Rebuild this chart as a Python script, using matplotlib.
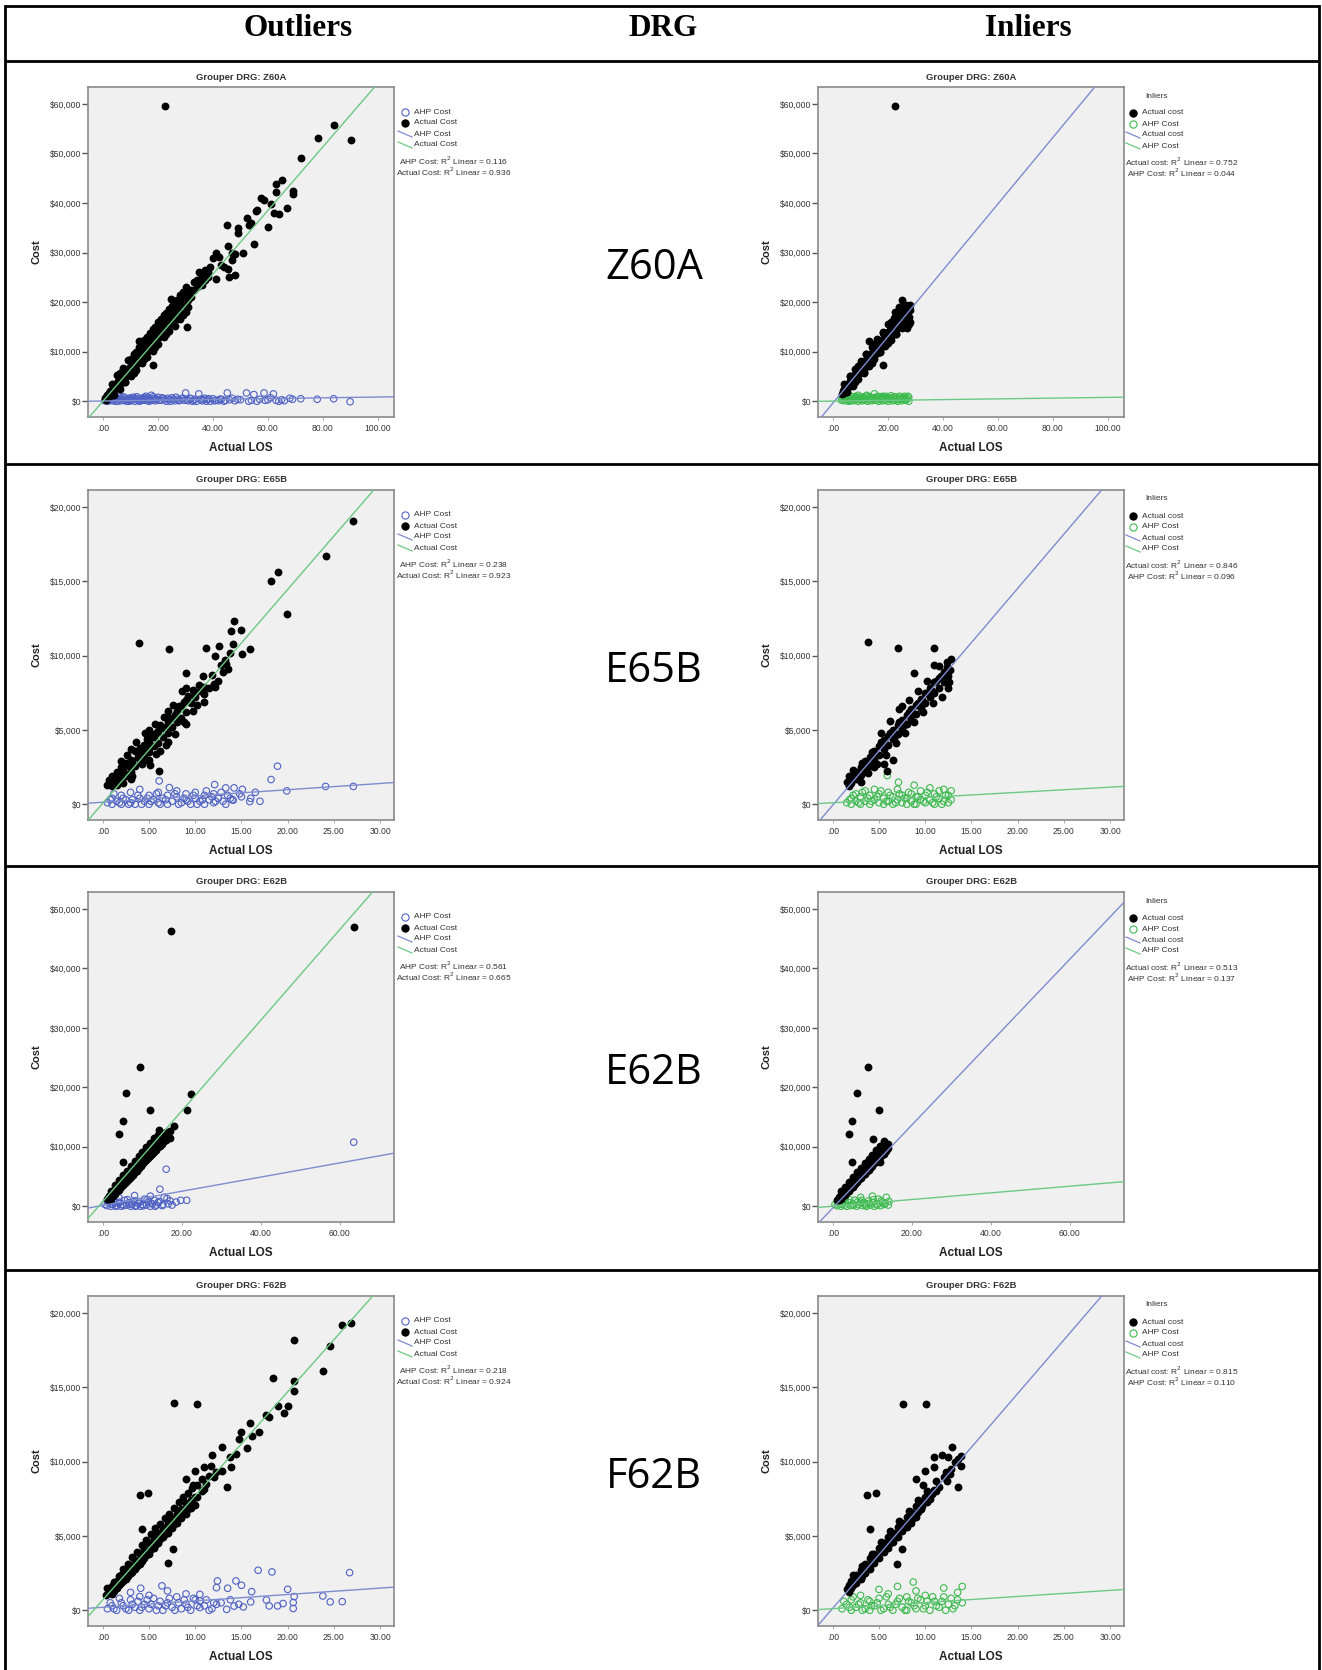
import matplotlib
matplotlib.use("Agg")
import matplotlib.pyplot as plt
from matplotlib.lines import Line2D
import numpy as np

W, H = 1322, 1670

# ---------------- DATA ----------------
drg_codes = ["Z60A", "E65B", "E62B", "F62B"]
headers = ["Outliers", "DRG", "Inliers"]

# Z60A outliers
z60a_out_act_x = [0.5,1,1,1.5,2,2,2.5,3,3,3.5,4,4,4.5,5,5,5.5,6,6,6.5,6,7,7,7.5,8,8,8.5,9,9,9.5,10,10,10.5,11,11,11.5,12,12,12.5,13,13,13.1,13.5,14,14,14.5,15,15,15.5,16,16,16.5,17,17,17.5,18,18,18.2,18.5,19,19,19.5,20,20,20.5,21,21,21.5,22,22,22.5,23,23,23.5,24,24,24.8,25,25,25.5,26,26,26.5,27,27,28,28,29,29,30,30.4,31,31,32,33,33,34,35,35,36,37,38,38,39,40,41,41,42,43,44,45.2,45.5,45.5,46,47,47,48,48,49,49,50.8,52.5,53,54,55.5,54.9,56,57.4,58.6,60.1,61,62.2,63,63,65.1,64.2,67,69.1,69.1,71.9,78.3,84.1,90.2,22.5]
z60a_out_act_y = [600,900,300,1300,1600,900,2000,2300,1500,2600,3000,2200,3300,3600,2800,4000,4300,3500,4700,5800,5000,4000,5300,5900,4800,6000,6500,5500,6800,7200,6200,7600,7900,6800,8200,8600,7400,9000,9400,8000,12100,9700,10000,8800,10400,10800,9500,11200,11500,10000,11800,12300,10800,12600,13000,11400,7400,13200,13600,12200,14000,14500,12800,15000,15300,13500,15700,16200,14000,16300,16800,14900,17000,17500,15500,20600,18000,16500,18500,19000,17000,19500,20000,17500,20000,18000,19500,21000,21000,15000,22000,20500,22500,22500,24000,23000,26000,24500,25500,24500,25000,26000,27000,28960,29970,24580,29100,27500,27000,35560,31310,26600,25000,30000,28500,29630,25500,34880,33870,29970,37030,35500,36000,38400,31650,38500,40950,40610,35150,39740,38050,43900,42290,44650,37710,39050,42420,41750,49090,53070,55760,52800,59600]
z60a_out_act_more = [(2,1200),(3,1900),(4,2600),(5,3200),(6,3900),(7,4500),(8,5300),(9,6000),(10,6700),(11,7300),(12,8000),(13,8700),(14,9400),(15,10100),(16,10700),(17,11500),(18,12200),(19,12900),(20,13600),(21,14400),(22,15100),(23,15800),(24,16500),(25,17200),(26,17900),(27,18700),(28,19200),(10,8500),(12,10000),(14,11500),(16,13000),(18,14500),(20,16000),(22,17500),(24,18700),(26,20000),(8,3800),(11,5800),(15,8500),(19,11000),(23,13500),(27,16500),(29,17500),(31,19000),(32,21000),(34,24500),(36,23500),(37,26500),(30,23000),(28,21500),
                     (3,3500),(5,5200),(7,6700),(9,8300),(11,9500),(13,10900),(15,12300),(17,13700),(19,15000),(21,16500),(23,17800),(25,19300),(27,20500),(29,22000),
                     (4,1200),(6,2400),(8,3900),(10,5100),(12,6400),(14,7700),(16,9000),(18,10200),(20,11500),(22,12900),(24,14200),(26,15200),(28,16500),(30,18000)]
z60a_out_ahp_x = [0.5,1,1.5,2,2.5,3,3.5,4,4.5,5,5.5,6,6.5,7,7.5,8,8.5,9,9.5,10,10.5,11,11.5,12,12.5,13,13.5,14,14.5,15,15.5,16,16.5,17,17.5,18,18.5,19,19.5,20,21,22,23,24,25,26,27,28,29,30,30.5,31,32,33,34,34.8,35.5,36,37,38,39,40,41,42,43,44,45.2,46,47,48,49,50,52.2,53,54,54.9,56,57,58.6,59,60,61,62,63,64,65,66,68,69,72,78,84,90]
z60a_out_ahp_y = [100,300,0,500,200,700,100,400,0,600,300,900,100,500,200,700,0,400,600,100,300,800,0,500,200,600,100,400,700,200,1000,300,0,500,1200,200,600,100,400,800,200,500,0,300,700,100,400,200,600,1680,300,100,500,200,0,1480,400,100,600,300,0,500,200,100,400,0,1680,300,600,100,400,300,1680,0,200,1350,0,400,1680,200,300,700,1480,200,0,300,100,600,400,500,400,500,-100]
z60a_out_ahp_more = [(1.2,600),(2.2,100),(3.2,400),(4.2,800),(5.2,0),(6.2,500),(7.2,900),(8.2,300),(9.2,0),(10.2,700),(11.2,400),(12.2,900),(13.2,0),(14.2,200),(15.2,600),(16.2,800),(17.2,100),(18.2,900),(19.2,500),(20.2,200),(21.5,700),(22.5,300),(23.5,600),(24.5,0),(25.5,400),(26.5,800),(27.5,100),(28.5,500),(29.5,200),(31.5,600),(32.5,0),(33.5,400),(36.5,300),(37.5,0),(38.5,500),(40.5,100),(42.5,400),(44.5,200)]

# Z60A inliers
z60a_in_act_x = [3,3.5,4,4,4.5,5,5,5.5,6,6,6.5,7,7,7.5,8,8,8.5,9,9,9.5,10,10,10.5,11,11,11.5,12,12,12.5,13,13,13,13.5,14,14,14.5,15,15,15.5,16,16,16.5,17,17,17.5,18,18,18.2,18.5,19,19,19.5,20,20,20.5,21,21,21.5,22,22,22.5,23,23,23.5,24,24,24.5,25,25,25,25.5,26,26,26.5,27,27,27.5,27.5,27.5,26.5,24,22.5,22.5]
z60a_in_act_y = [1500,2000,2500,1700,2800,3200,2400,3500,4000,3000,4300,4700,3800,5000,5500,4500,5800,6300,5200,6600,7000,5900,7300,7700,6500,8000,8400,7200,8700,9100,12100,7900,9400,9800,8500,10100,10500,9200,10800,11200,9800,11500,11900,10500,12200,12600,11200,7300,12800,13300,11800,13500,14000,12500,14300,14700,13100,15000,15400,13800,15600,16000,14400,16300,16700,15000,17000,17300,15500,20500,17500,18000,16000,18200,18600,16500,19000,17000,15500,19500,19000,18000,59600]
z60a_in_act_more = [(4,2200),(5,2900),(6,3500),(7,4200),(8,5000),(9,5700),(10,6400),(11,7100),(12,7800),(13,8500),(14,9100),(15,9800),(16,10500),(17,11200),(18,11900),(19,12500),(20,13200),(21,13900),(22,14600),(23,15200),(24,15800),(25,16500),(26,17100),(27,17800),(6,5000),(9,7200),(12,9500),(15,11500),(18,13800),(21,16000),(24,18000),(8,3800),(11,6000),(14,7800),(17,9900),(20,11800),(23,13600),(26,15200),(28,16000),(28,18500),(27.8,19500),(27,14800),
                    (4,3500),(6,5000),(8,6500),(10,8200),(12,9600),(14,11000),(16,12600),(18,14000),(20,15600),(22,16900),(24,18400),(26,19200),
                    (5,1800),(7,3000),(9,4400),(11,5800),(13,7200),(15,8500),(17,9900),(19,11200),(21,12400),(23,13600),(25,14700),(27,15800)]
z60a_in_ahp_x = [3,3.5,4,4.5,5,5,5.5,6,6.5,7,7.5,8,8.5,9,9.5,10,10.5,11,11.5,12,12.5,13,13.5,14,14.5,15,15.5,16,16.5,17,17.5,18,18.5,19,19.5,20,20.5,21,21.5,22,22.5,23,23.5,24,24.5,25,25.5,26,26.5,27,27.5,27.5,26,9,12,18,6]
z60a_in_ahp_y = [200,800,100,500,1500,300,0,600,200,900,100,400,700,0,300,600,100,800,200,500,0,300,700,100,400,1500,200,600,0,300,900,100,500,200,700,0,400,1100,100,500,200,800,0,300,600,100,400,700,200,500,0,800,1000,1200,1000,1000,1100]
z60a_in_ahp_more = [(3.2,500),(4.2,900),(5.2,700),(6.2,100),(7.2,500),(8.2,1000),(9.2,600),(10.2,900),(11.2,400),(12.2,1200),(13.2,900),(14.2,600),(15.2,800),(16.2,1000),(17.2,600),(18.2,800),(19.2,1000),(20.2,600),(21.2,700),(22.2,900),(23.2,400),(24.2,1000),(25.2,700),(26.2,400),(27.2,1000)]

# E65B outliers
e65b_out_act_x = [0.5,0.7,1,1,1.3,1.5,1.5,2,2,2.3,2.5,2.5,3,3,3.3,3.5,3.5,4,4,4,4.3,4.5,4.5,5,5,5,5.1,5.5,5.5,6,6,6.1,6.5,6.5,7,7,7.5,7.5,8,8,8.5,8.5,9,9,9.0,9.5,10,10,10.2,10.5,11,11,11.2,11.5,12,12.1,12.1,12.6,12.5,13,13.3,13.5,13.8,13.9,14.1,14.2,15.0,15.1,15.9,18.2,18.9,19.9,24.1,27.1,3.9,7.2]
e65b_out_act_y = [1300,1600,1200,1900,1500,1300,2200,1700,2500,2100,1900,2800,2200,3000,2600,3600,2600,2900,3400,3800,3300,3300,4000,3500,4200,3800,2670,3900,4500,4100,4900,2220,4500,5100,4800,5500,5200,5800,5500,6300,5800,6600,6200,7000,8800,6800,7200,7500,6700,7600,7400,7900,10500,7800,8100,7880,9970,10640,8300,8900,9450,9100,10160,11630,10790,12360,11740,10110,10460,15040,15630,12800,16720,19060,10860,10450]
e65b_out_act_more = [(1.2,1700),(1.8,2000),(2.2,2300),(2.8,2600),(3.2,2900),(3.8,3200),(4.2,3600),(4.8,4400),(5.2,4700),(5.8,4800),(6.2,5300),(6.8,5200),(7.2,5800),(7.8,6000),(8.2,6600),(8.8,6900),(9.2,7300),(9.8,7700),(4.6,4800),(5.6,5400),(6.6,5900),(3.6,4200),(2.6,3300),(7.6,6700),(8.6,7600),(10.4,8000),(10.8,8600),(11.8,8700),(12.8,9400),(13.2,9700),(2.2,1400),(3.2,1900),(4.2,2700),(5.8,3400),(6.8,4000),(7.8,4700),(8.8,5500),(9.8,6300),(4.8,3000),(6.2,3600),
                     (2,2900),(3,3700),(5,5000),(7,6300),(9,7800),(3,1700),(5,3000),(7,4200),(9,5400),(11,6900)]
e65b_out_ahp_x = [0.5,1,1,1.5,2,2,2.5,3,3,3.5,4,4,4.5,5,5,5.5,6,6,6.1,6.5,7,7,7.2,7.5,8,8,8.5,9,9,9.5,10,10,10.5,11,11,11.5,12,12,12.1,12.5,13,13.3,13.3,13.5,14,14.1,14.2,15,15.1,15.9,16.5,18.2,18.9,19.9,24.1,27.1]
e65b_out_ahp_y = [100,0,400,200,0,600,300,100,800,0,400,1000,200,0,600,300,100,800,1570,400,0,600,1120,200,500,900,100,300,700,0,400,800,200,600,0,300,100,700,1320,400,200,1100,0,600,300,270,1100,500,1000,180,800,1660,2560,900,1200,1200]
e65b_out_ahp_more = [(0.8,300),(1.2,700),(1.8,100),(2.2,400),(2.8,0),(3.2,300),(3.8,600),(4.2,0),(4.8,400),(5.2,200),(5.8,700),(6.2,0),(6.8,300),(7.8,700),(8.2,0),(8.8,400),(9.2,200),(9.8,600),(10.2,0),(10.8,300),(11.2,900),(11.8,500),(12.2,200),(12.8,800),(13.8,400),(14.8,700),(16,400),(17,200)]

# E65B inliers
e65b_in_act_x = [1.5,1.8,2,2,2.5,2.5,3,3,3.5,3.5,4,4,4.1,4.5,4.5,5,5,5.5,5.5,5.9,6,6,6.5,6.5,7,7,7.5,7.5,8,8,8.5,8.5,8.8,9,9,9.5,9.5,10,10,10.5,10.5,11,11,11.5,11.5,12,12,12.3,12.5,11.5,10.9,3.8,7.0,10.9,7.5,2.2]
e65b_in_act_y = [1500,1200,1800,1400,2200,1700,2500,2000,2900,2300,3200,2600,2650,3600,3000,3900,3300,4300,3700,2220,4600,4000,5000,4400,5300,4700,5700,5000,6000,5400,6400,5700,8800,6700,6100,7100,6500,7500,6800,7800,7200,8200,7500,8500,7800,8900,8200,9200,8600,9300,9400,10900,10500,10500,6600,1900]
e65b_in_act_more = [(1.7,1900),(2.2,2300),(2.7,2000),(3.2,2800),(3.7,2600),(4.2,3500),(4.7,3300),(5.2,4200),(5.7,4000),(6.2,4800),(6.7,4600),(7.2,5500),(7.7,5300),(8.2,6200),(8.7,6100),(9.2,6800),(9.7,7000),(10.2,7500),(10.7,7600),(11.2,8300),(11.7,8600),(12.2,8500),(12.7,9000),(12.5,7800),(11.8,7200),(10.8,6800),(9.8,6200),(8.8,5500),(7.8,4800),(6.8,4100),(5.8,3300),(4.8,2700),(3.8,2100),(5.2,4800),(6.2,5600),(7.2,6400),(8.2,7000),(9.2,7600),(10.2,8300),(12.3,9600),(12.8,9800),(12.6,8200),(4.5,2500),(5.5,2700),(6.5,3000),(3,1500)]
e65b_in_ahp_x = [1.5,2,2,2.5,2.5,3,3,3.5,3.5,4,4,4.5,4.5,5,5,5.5,5.5,5.9,6,6,6.5,6.5,7,7,7.1,7.5,7.5,8,8,8.5,8.5,8.8,9,9,9.5,9.5,10,10,10.5,10.5,11,11,11.5,11.5,12,12,12.5,12.5]
e65b_in_ahp_y = [100,400,0,700,200,0,500,900,200,0,600,300,1000,100,700,400,0,1930,800,200,500,0,300,1000,1480,600,100,400,0,700,200,1280,500,0,900,300,100,600,1100,300,0,700,400,900,200,1000,600,100]
e65b_in_ahp_more = [(1.8,300),(2.2,600),(2.8,100),(3.2,800),(3.8,400),(4.2,200),(4.8,500),(5.2,900),(5.8,200),(6.2,600),(6.8,100),(7.2,700),(7.8,400),(8.2,800),(8.8,0),(9.2,500),(9.8,200),(10.2,800),(10.8,100),(11.2,500),(11.8,0),(12.2,600),(12.8,300),(12.8,900)]

# E62B outliers
e62b_out_act_x = [1,1.5,2,2,2.5,3,3,3.5,4,4,4.1,4.5,5,5,5.0,5.0,5.5,5.8,6,6,6.5,7,7,7.5,8,8,8.5,9,9,9.4,9.5,10,10,10.5,11,11,11.5,11.9,12,12,12.5,13,13,13.5,14,14,14.3,15,15,15.5,16,17,17.2,18.1,21.3,22.3,63.5]
e62b_out_act_y = [1200,1700,2000,1300,2500,2800,2100,3200,3600,2800,12170,3900,4300,3500,14260,7400,4700,19020,5000,4200,5400,5800,5000,6200,6500,5700,6900,7300,6400,23400,7600,8000,7100,8400,8700,7800,9100,16210,9500,8500,9800,10200,9200,10600,11000,9900,12850,11500,10500,12000,11200,11450,46350,13420,16210,18860,46970]
e62b_out_act_more = [(1.5,1100),(2.5,1800),(3.5,2500),(4.5,3200),(5.5,3900),(6.5,4600),(7.5,5300),(8.5,6000),(9.5,6700),(10.5,7400),(11.5,8100),(12.5,8800),(13.5,9500),(14.5,10200),(15.5,10900),(2,2600),(3,3500),(4,4400),(5,5200),(6,6000),(7,6800),(8,7600),(9,8400),(10,9200),(11,10000),(12,10700),(13,11400),(14,12000),(16,12500),(17,12700)]
e62b_out_ahp_x = [1,1.5,2,2.5,3,3.5,4,4.5,5,5.5,6,6.5,7,7.5,8,8.5,9,9.5,10,10.5,11,11.5,12,12.5,13,13.5,14,14.4,15,15.5,16,16.5,17,19.7,21.2,63.5,4,8,12]
e62b_out_ahp_y = [100,600,0,300,800,100,500,0,300,1000,200,600,0,400,900,100,500,0,300,1200,200,700,0,400,1000,200,600,2860,100,1500,6230,400,900,1000,1000,10770,1500,1800,1700]
e62b_out_ahp_more = [(0.5,300),(1.2,900),(2.2,400),(3.2,0),(4.2,700),(5.2,100),(6.2,1100),(7.2,300),(8.2,0),(9.2,800),(10.2,100),(11.2,1100),(12.2,500),(13.2,0),(14.2,800),(15.2,300),(16.2,1300),(17.5,200),(18.5,700)]

# E62B inliers
e62b_in_act_x = [1,1.5,2,2,2.5,3,3,3.5,4,4,4.1,4.5,4.8,4.9,5,5,5.5,6,6,6.0,6.5,7,7,7.5,8,8,8.5,8.9,9,9,9.5,10,10,10.2,10.5,11,11,11.5,11.7,12,12,12.5,12.8,13,13,13.5,12]
e62b_in_act_y = [1000,1500,1900,1200,2300,2600,1900,3000,3400,2600,12170,3800,14260,7400,4100,3300,4500,4900,4000,19020,5200,5600,4700,6000,6300,5400,6700,23400,7100,6100,7400,7800,6800,11330,8200,8500,7500,8900,16210,9200,8200,9600,10900,9900,8800,9300,7400]
e62b_in_act_more = [(1.5,1000),(2.5,1700),(3.5,2400),(4.5,3100),(5.5,3800),(6.5,4500),(7.5,5200),(8.5,5900),(9.5,6600),(10.5,7300),(11.5,8000),(12.5,8700),(13.5,10300),(2,2500),(3,3300),(4,4100),(5,4900),(6,5700),(7,6400),(8,7200),(9,8000),(10,8700),(11,9400),(12,10100),(13,10600),(14,9800),(14,10500)]
e62b_in_ahp_x = [1,1.5,2,2.5,3,3.5,4,4.5,5,5.5,6,6.5,7,7.5,8,8.5,9,9.5,10,10.5,11,11.5,12,12.5,13,13.5,14,3,7,10]
e62b_in_ahp_y = [100,500,0,800,200,0,600,100,400,1000,0,300,700,100,500,0,900,200,600,0,400,1200,100,700,300,1500,200,1400,1500,1700]
e62b_in_ahp_more = [(0.5,300),(1.2,800),(2.2,300),(3.2,600),(4.2,1100),(5.2,200),(6.2,700),(7.2,1000),(8.2,200),(9.2,500),(10.2,1100),(11.2,200),(12.2,900),(13.2,500),(14.2,800)]

# F62B outliers
f62b_out_act_x = [0.3,0.7,0.85,1,1,1.5,1.5,2,2,2.5,2.5,3,3,3.5,3.5,4,4,4.2,4.5,4.5,5,5,5.5,5.5,6,6,6.5,6.5,7,7,7.0,7.6,7.5,7.5,8,8,8.5,8.5,9,9,9.5,9.5,10,10,4.0,4.9,7.7,10.2,9.0,9.8,10.0,10.9,11.0,11.7,11.8,12.0,12.2,12.9,12.9,13.4,13.8,13.9,14.4,14.7,15.0,15.6,15.9,16.1,16.9,17.7,18.0,18.4,18.9,19.6,20.0,20.7,20.7,20.7,23.8,24.6,25.9,26.8]
f62b_out_act_y = [1000,1300,1230,1600,1100,2000,1500,2400,1800,2700,2100,3000,2500,3400,2800,3800,3100,5450,4100,3500,4500,3800,4800,4200,5200,4500,5500,4900,5900,5200,3160,4120,6200,5500,6500,5900,6800,6200,7200,6500,7400,6900,7600,7100,7730,7910,13940,13870,8830,8450,9390,8160,9610,9720,10440,8940,9280,9340,11010,8320,10290,9660,10500,11530,12010,10890,12590,11750,11970,13150,13000,15600,13710,13260,13710,18200,15440,14720,16110,17800,19180,19300]
f62b_out_act_more = [(0.5,1500),(1.2,1900),(1.7,2300),(2.2,2800),(2.7,3100),(3.2,3600),(3.7,3900),(4.2,4400),(4.7,4700),(5.2,5100),(5.7,5500),(6.2,5800),(6.7,6200),(7.2,6500),(7.7,6900),(8.2,7300),(8.7,7600),(9.2,7900),(9.7,8200),(10.2,8400),(10.7,8800),(1.2,1300),(1.7,1700),(2.2,2000),(2.7,2300),(3.2,2600),(3.7,3000),(4.2,3300),(4.7,3700),(5.2,4100),(5.7,4400),(6.2,4800),(6.7,5100),(7.2,5500),(7.7,5800),(8.2,6200),(8.7,6500),(9.2,6800),(9.7,7300),(10.2,7600),(10.7,8000),(11.2,8500),(11.5,9000)]
f62b_out_ahp_x = [0.5,1,1.5,2,2.5,3,3.5,4,4,4.1,4.5,5,5.5,6,6.4,6.5,7,7.5,8,8.5,9,9.5,10,10.5,10.5,10.5,11,11.5,12,12.3,12.3,12.4,13.4,13.5,14.2,14.4,14.7,15.0,15.2,16.0,16.1,16.8,17.7,18.0,18.3,18.9,19.5,20.0,20.6,20.6,20.7,23.8,24.6,25.9,26.7,3,5,7,9]
f62b_out_ahp_y = [100,300,0,500,100,700,200,0,920,1480,400,100,800,300,1640,0,500,200,900,100,400,0,700,630,1070,180,300,0,500,1520,400,1970,60,1480,280,1970,400,1680,220,560,1250,2690,690,290,2580,290,450,1410,520,120,920,960,560,580,2530,1200,1000,1300,1100]
f62b_out_ahp_more = [(0.8,500),(1.2,100),(1.8,800),(2.2,300),(2.8,0),(3.2,400),(3.8,600),(4.2,200),(4.8,700),(5.2,400),(5.8,0),(6.2,600),(6.8,300),(7.2,800),(7.8,0),(8.2,500),(8.8,700),(9.2,200),(9.8,800),(10.2,300),(11.2,700),(11.8,100),(12.8,500),(13.8,700)]

# F62B inliers
f62b_in_act_x = [1.5,1.8,2,2,2.5,2.5,3,3,3.5,3.5,4,4,4.0,4.5,4.5,5,5,5.5,5.5,6,6,6.5,6.5,6.9,7,7,7.5,7.5,7.5,8,8,8.5,8.5,9,9,9.5,9.5,3.7,4.7,7.6,10.1,9.0,9.8,10.0,10.9,10.9,11.8,12.0,12.4,12.7,12.9,13.5,13.85,13.85,10,10.5,11,11.5]
f62b_in_act_y = [1400,1700,1500,2000,1800,2400,2100,2700,2500,3100,2800,3500,5470,3200,3800,3500,4200,3900,4500,4200,4900,4600,5200,3120,4900,5600,4120,5300,5900,5600,6300,5900,6600,6300,7000,6800,7300,7750,7890,13900,13900,8830,8430,9390,9610,10290,10440,8940,8720,9170,10960,8300,10370,9720,7600,7500,8100,8300]
f62b_in_act_more = [(1.7,1200),(2.2,1700),(2.7,2100),(3.2,2300),(3.7,2900),(4.2,3200),(4.7,3500),(5.2,4000),(5.7,4300),(6.2,4500),(6.7,5000),(7.2,5300),(7.7,5600),(8.2,6000),(8.7,6200),(9.2,6600),(9.7,7000),(10.2,7300),(10.7,7800),(11.2,8000),(2.2,2400),(3.2,3000),(4.2,3800),(5.2,4600),(6.2,5300),(7.2,6000),(8.2,6700),(9.2,7400),(10.2,8000),(11.2,8700),(12.2,9300),(12.8,9500),(13.2,10000),(13.5,10200),(12.5,10300)]
f62b_in_ahp_x = [1,1.5,2,2,2.5,3,3,3.5,4,4,4.5,5,5,5.5,6,6,6.5,7,7,7.5,8,8,8.5,8.7,9,9,9.5,10,10,10.5,11,11.5,12,12,12.5,13,13.5,13.5]
f62b_in_ahp_y = [100,400,0,700,200,500,1000,100,600,0,300,800,1400,100,400,1100,0,600,1600,200,900,0,500,1900,100,1300,700,300,1000,0,600,200,900,1500,400,100,700,1200]
f62b_in_ahp_more = [(1.2,600),(1.8,200),(2.2,900),(2.8,400),(3.2,0),(3.8,700),(4.2,300),(4.8,500),(5.2,0),(5.8,900),(6.2,200),(6.8,400),(7.2,800),(7.8,0),(8.2,600),(8.8,300),(9.2,800),(9.8,100),(10.2,600),(10.8,900),(11.2,300),(11.8,600),(12.2,0),(12.8,800),(13.2,300),(14.0,1600),(14,500)]

# fitted regression lines: (intercept, slope)
fit_out_act = [(100, 640), (70, 719), (835, 762), (700, 700)]
fit_out_ahp = [(50, 8), (137, 42), (150, 119), (200, 43)]
fit_in_act = [(-260, 668), (-56, 729), (-257, 697), (137, 722)]
fit_in_ahp = [(30, 7.5), (100, 35), (13, 56), (107, 41)]

r2_out = [(0.116, 0.936), (0.238, 0.923), (0.561, 0.665), (0.218, 0.924)]   # AHP, Actual
r2_in = [(0.752, 0.044), (0.846, 0.096), (0.513, 0.137), (0.815, 0.110)]    # Actual, AHP

y_ticks = [[0, 10000, 20000, 30000, 40000, 50000, 60000],
           [0, 5000, 10000, 15000, 20000],
           [0, 10000, 20000, 30000, 40000, 50000],
           [0, 5000, 10000, 15000, 20000]]
x_ticks = [[0, 20, 40, 60, 80, 100],
           [0, 5, 10, 15, 20, 25, 30],
           [0, 20, 40, 60],
           [0, 5, 10, 15, 20, 25, 30]]
x_lims = [(-5.6, 106), (-1.6, 31.5), (-3.8, 73.7), (-1.6, 31.5)]


def join(xs, ys, more):
    mx = [p[0] for p in more]
    my = [p[1] for p in more]
    return list(mx) + list(xs), list(my) + list(ys)


out_data = []
in_data = []
for (ox, oy, om, hx, hy, hm, ix, iy, im, gx, gy, gm) in [
        (z60a_out_act_x, z60a_out_act_y, z60a_out_act_more, z60a_out_ahp_x, z60a_out_ahp_y, z60a_out_ahp_more,
         z60a_in_act_x, z60a_in_act_y, z60a_in_act_more, z60a_in_ahp_x, z60a_in_ahp_y, z60a_in_ahp_more),
        (e65b_out_act_x, e65b_out_act_y, e65b_out_act_more, e65b_out_ahp_x, e65b_out_ahp_y, e65b_out_ahp_more,
         e65b_in_act_x, e65b_in_act_y, e65b_in_act_more, e65b_in_ahp_x, e65b_in_ahp_y, e65b_in_ahp_more),
        (e62b_out_act_x, e62b_out_act_y, e62b_out_act_more, e62b_out_ahp_x, e62b_out_ahp_y, e62b_out_ahp_more,
         e62b_in_act_x, e62b_in_act_y, e62b_in_act_more, e62b_in_ahp_x, e62b_in_ahp_y, e62b_in_ahp_more),
        (f62b_out_act_x, f62b_out_act_y, f62b_out_act_more, f62b_out_ahp_x, f62b_out_ahp_y, f62b_out_ahp_more,
         f62b_in_act_x, f62b_in_act_y, f62b_in_act_more, f62b_in_ahp_x, f62b_in_ahp_y, f62b_in_ahp_more)]:
    out_data.append(join(ox, oy, om) + join(hx, hy, hm))
    in_data.append(join(ix, iy, im) + join(gx, gy, gm))

# ---------------- STYLE ----------------
BLUE_M = "#4f62c4"
BLUE_L = "#7d8ccf"
GREEN_M = "#3dba4e"
GREEN_L = "#6cc983"
FACE = "#f0f0f0"
SANS = "Liberation Sans"

fig = plt.figure(figsize=(W / 100, H / 100), dpi=100)
fig.patch.set_facecolor("white")


def fx(px):
    return px / W


def fy(py):
    return 1 - py / H


def hline(y, x0=5, x1=1319, lw=2.0):
    fig.add_artist(Line2D([fx(x0), fx(x1)], [fy(y), fy(y)], transform=fig.transFigure,
                          color="black", lw=lw, solid_capstyle="butt"))


row_tops = [61, 464, 866, 1270]
hline(6)
for t in row_tops:
    hline(t)
fig.add_artist(Line2D([fx(5), fx(5)], [fy(6), fy(1670)], transform=fig.transFigure, color="black", lw=2.0))
fig.add_artist(Line2D([fx(1319), fx(1319)], [fy(6), fy(1670)], transform=fig.transFigure, color="black", lw=2.0))

for name, cx in zip(headers, [298, 663, 1028]):
    fig.text(fx(cx), fy(28), name, ha="center", va="center", fontsize=22.5,
             fontweight="bold", family="Liberation Serif")


def money(v):
    return "$" + format(int(v), ",")


def xfmt(v):
    return ".00" if v == 0 else "%.2f" % v


def make_axes(r, left, right, xl, ticks_y):
    T = row_tops[r]
    top, bottom = T + 26, T + 356
    ax = fig.add_axes([fx(left), fy(bottom), fx(right - left), (bottom - top) / H])
    ax.set_facecolor(FACE)
    M = ticks_y[-1]
    ax.set_ylim(-0.053 * M, 1.057 * M)
    ax.set_xlim(*xl)
    return ax


def style_axes(ax, ticks_x, ticks_y, title, T, left, right):
    ax.set_xticks(ticks_x)
    ax.set_xticklabels([xfmt(v) for v in ticks_x], fontsize=6.2, family=SANS, color="#333333")
    ax.set_yticks(ticks_y)
    ax.set_yticklabels([money(v) for v in ticks_y], fontsize=6.2, family=SANS, color="#333333")
    ax.tick_params(axis="y", length=4, width=1, color="#555555", pad=1)
    ax.tick_params(axis="x", length=2, width=0.6, color="#999999", pad=3)
    for s in ax.spines.values():
        s.set_color("#8a8a8a")
        s.set_linewidth(1.2)
    cx = (left + right) / 2
    fig.text(fx(cx), fy(T + 16), title, ha="center", va="center", fontsize=6.8,
             fontweight="bold", family=SANS, color="#333333")
    fig.text(fx(cx), fy(T + 387), "Actual LOS", ha="center", va="center", fontsize=8.5,
             fontweight="bold", family=SANS, color="#222222")
    fig.text(fx(left - 51), fy(T + 191), "Cost", ha="center", va="center", fontsize=8,
             fontweight="bold", family=SANS, rotation=90, color="#222222")


def leg_marker(x, y, filled, color):
    fig.add_artist(Line2D([fx(x)], [fy(y)], transform=fig.transFigure, marker="o",
                          markersize=5.2, markerfacecolor=color if filled else "none",
                          markeredgecolor=color, markeredgewidth=0.8, linestyle="none"))


def leg_line(x, y, color):
    fig.add_artist(Line2D([fx(x - 7), fx(x + 7)], [fy(y - 3), fy(y + 3)], transform=fig.transFigure,
                          color=color, lw=0.9))


def leg_text(x, y, s, ha="left"):
    fig.text(fx(x), fy(y), s, ha=ha, va="center", fontsize=6, family=SANS, color="#333333")


MS_ACT = 32
MS_AHP = 22

for r in range(4):
    T = row_tops[r]
    title = "Grouper DRG: " + drg_codes[r]
    # ---- outliers panel ----
    ax = make_axes(r, 88, 394, x_lims[r], y_ticks[r])
    act_x, act_y, ahp_x, ahp_y = out_data[r]
    ax.scatter(ahp_x, ahp_y, s=MS_AHP, facecolors="none", edgecolors=BLUE_M, linewidths=0.8, zorder=2)
    ax.scatter(act_x, act_y, s=MS_ACT, color="black", linewidths=0, zorder=3)
    a0, a1 = fit_out_ahp[r]
    ax.axline((0, a0), slope=a1, color=BLUE_L, lw=1.0, zorder=4)
    b0, b1 = fit_out_act[r]
    ax.axline((0, b0), slope=b1, color=GREEN_L, lw=1.0, zorder=4)
    style_axes(ax, x_ticks[r], y_ticks[r], title, T, 88, 394)
    lx = 405
    leg_marker(lx, T + 51, False, BLUE_M); leg_text(lx + 9, T + 51, "AHP Cost")
    leg_marker(lx, T + 62, True, "black"); leg_text(lx + 9, T + 62, "Actual Cost")
    leg_line(lx, T + 73, BLUE_L); leg_text(lx + 9, T + 73, "AHP Cost")
    leg_line(lx, T + 84, GREEN_L); leg_text(lx + 9, T + 84, "Actual Cost")
    leg_text(454, T + 100, "AHP Cost: R$^2$ Linear = %.3f" % r2_out[r][0], ha="center")
    leg_text(454, T + 111, "Actual Cost: R$^2$ Linear = %.3f" % r2_out[r][1], ha="center")

    # ---- inliers panel ----
    ax = make_axes(r, 818, 1124, x_lims[r], y_ticks[r])
    act_x, act_y, ahp_x, ahp_y = in_data[r]
    ax.scatter(ahp_x, ahp_y, s=MS_AHP, facecolors="none", edgecolors=GREEN_M, linewidths=0.8, zorder=2)
    ax.scatter(act_x, act_y, s=MS_ACT, color="black", linewidths=0, zorder=3)
    a0, a1 = fit_in_act[r]
    ax.axline((0, a0), slope=a1, color=BLUE_L, lw=1.0, zorder=4)
    b0, b1 = fit_in_ahp[r]
    ax.axline((0, b0), slope=b1, color=GREEN_L, lw=1.0, zorder=4)
    style_axes(ax, x_ticks[r], y_ticks[r], title, T, 818, 1124)
    lx = 1133
    leg_text(1156, T + 35, "Inliers", ha="center")
    leg_marker(lx, T + 52, True, "black"); leg_text(lx + 9, T + 52, "Actual cost")
    leg_marker(lx, T + 63, False, GREEN_M); leg_text(lx + 9, T + 63, "AHP Cost")
    leg_line(lx, T + 74, BLUE_L); leg_text(lx + 9, T + 74, "Actual cost")
    leg_line(lx, T + 85, GREEN_L); leg_text(lx + 9, T + 85, "AHP Cost")
    leg_text(1182, T + 101, "Actual cost: R$^2$ Linear = %.3f" % r2_in[r][0], ha="center")
    leg_text(1182, T + 112, "AHP Cost: R$^2$ Linear = %.3f" % r2_in[r][1], ha="center")

    fig.text(fx(654), fy(T + 207), drg_codes[r], ha="center", va="center", fontsize=30,
             family="Open Sans", color="black")

fig.savefig("out.png", dpi=100, facecolor="white")
